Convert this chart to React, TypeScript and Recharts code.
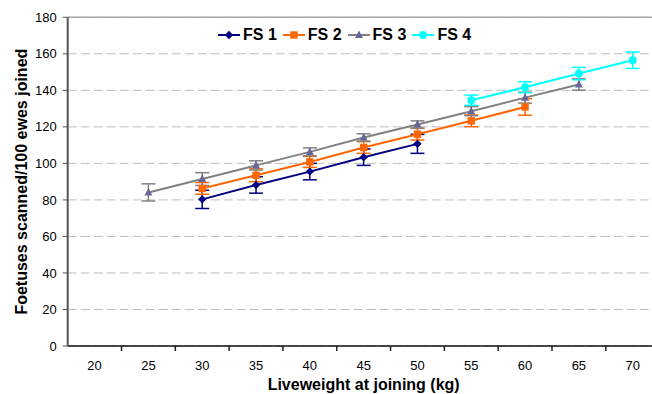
import React from 'react';
import { LineChart, Line, XAxis, YAxis, CartesianGrid, ErrorBar, ReferenceLine, Legend, Label } from 'recharts';

const xCategories = [20, 25, 30, 35, 40, 45, 50, 55, 60, 65, 70];
const yTicks = [0, 20, 40, 60, 80, 100, 120, 140, 160, 180];

const seriesNames = ['FS 1', 'FS 2', 'FS 3', 'FS 4'];

const fs1Weights = [30, 35, 40, 45, 50];
const fs1Values = [80.3, 88.2, 95.5, 103.4, 110.7];
const fs1Errors = [5, 4.5, 4.5, 4.5, 5.2];

const fs2Weights = [30, 35, 40, 45, 50, 55, 60];
const fs2Values = [86.3, 93.5, 100.8, 108.7, 116.0, 123.3, 130.9];
const fs2Errors = [3.2, 3.5, 3, 3.2, 3.2, 3.2, 4.5];

const fs3Weights = [25, 30, 35, 40, 45, 50, 55, 60, 65];
const fs3Values = [84.1, 91.4, 98.9, 106.3, 114.2, 121.3, 128.6, 136.0, 143.2];
const fs3Errors = [4.7, 3.5, 2.5, 2.2, 2, 2, 2.5, 3, 3.1];

const fs4Weights = [55, 60, 65, 70];
const fs4Values = [134.6, 141.7, 149.2, 156.5];
const fs4Errors = [2.8, 3, 3.4, 4.5];

const FONT = '"Liberation Sans", Arial, Helvetica, sans-serif';

const build = (xs: number[], ys: number[], es: number[]) =>
  xs.map((x, i) => ({ x, y: ys[i], err: es[i] }));

const fs1Data = build(fs1Weights, fs1Values, fs1Errors);
const fs2Data = build(fs2Weights, fs2Values, fs2Errors);
const fs3Data = build(fs3Weights, fs3Values, fs3Errors);
const fs4Data = build(fs4Weights, fs4Values, fs4Errors);

type Kind = 'diamond' | 'square' | 'triangle' | 'circle';

const seriesStyles: { kind: Kind; line: string; marker: string }[] = [
  { kind: 'diamond', line: '#000080', marker: '#000080' },
  { kind: 'square', line: '#FF6600', marker: '#FF6600' },
  { kind: 'triangle', line: '#808080', marker: '#666699' },
  { kind: 'circle', line: '#00FFFF', marker: '#00FFFF' },
];

// category boundaries (Excel-style tick marks between categories)
const boundaryTicks = xCategories.slice(1).map((c) => c - 2.5).concat(xCategories[xCategories.length - 1] + 2.5);

function Marker({ kind, cx, cy, color }: { kind: Kind; cx: number; cy: number; color: string }) {
  if (cx == null || cy == null) return null;
  if (kind === 'diamond') {
    return <polygon points={`${cx},${cy - 4.2} ${cx + 4.2},${cy} ${cx},${cy + 4.2} ${cx - 4.2},${cy}`} fill={color} />;
  }
  if (kind === 'square') {
    return <rect x={cx - 3.7} y={cy - 3.7} width={7.4} height={7.4} fill={color} />;
  }
  if (kind === 'triangle') {
    return <polygon points={`${cx},${cy - 4.5} ${cx + 4},${cy + 3} ${cx - 4},${cy + 3}`} fill={color} />;
  }
  return <circle cx={cx} cy={cy} r={4} fill={color} />;
}

const makeDot = (i: number) => (p: any) => (
  <Marker key={`d-${i}-${p.index}`} kind={seriesStyles[i].kind} cx={p.cx} cy={p.cy} color={seriesStyles[i].marker} />
);

const TickMarkShape = (p: any) => {
  const x = p.x1 ?? p.x2;
  const yb = Math.max(p.y1 ?? 0, p.y2 ?? 0);
  if (x == null || !isFinite(yb)) return null;
  return <line x1={x} x2={x} y1={yb} y2={yb + 5} stroke="#222" strokeWidth={1.5} />;
};

const renderLegend = () => (
  <div style={{ display: 'flex', alignItems: 'center', fontFamily: FONT, fontWeight: 'bold', fontSize: 16, lineHeight: '16px', whiteSpace: 'nowrap' }}>
    {seriesNames.map((name, i) => (
      <div key={name} style={{ display: 'flex', alignItems: 'center', marginRight: 6 }}>
        <svg width={22} height={12} style={{ marginRight: 3 }}>
          <line x1={0} y1={6} x2={22} y2={6} stroke={seriesStyles[i].line} strokeWidth={2} />
          <Marker kind={seriesStyles[i].kind} cx={11} cy={6} color={seriesStyles[i].marker} />
        </svg>
        <span style={{ color: '#000' }}>{name}</span>
      </div>
    ))}
  </div>
);

const seriesData = [fs1Data, fs2Data, fs3Data, fs4Data];

export default function App() {
  return (
    <div style={{ position: 'absolute', left: 0, top: 0, width: 652, height: 394, overflow: 'hidden', background: '#fff' }}>
      <LineChart width={680} height={410} margin={{ top: 17.3, right: 20.4, left: 7.7, bottom: 24 }}>
        <CartesianGrid horizontal vertical={false} stroke="#bdbdbd" strokeDasharray="9 4" />
        <XAxis
          xAxisId="main"
          type="number"
          dataKey="x"
          domain={[17.5, 72.5]}
          ticks={xCategories}
          interval={0}
          height={40}
          axisLine={{ stroke: '#111', strokeWidth: 1.5 }}
          tickLine={false}
          tickSize={0}
          tickMargin={15}
          tick={{ fill: '#000', fontSize: 13, fontFamily: FONT }}
          allowDataOverflow
        >
          <Label
            content={({ viewBox }: any) => (
              <text
                x={viewBox.x + viewBox.width / 2}
                y={viewBox.y + 44}
                textAnchor="middle"
                fontFamily={FONT}
                fontWeight="bold"
                fontSize={16}
                fill="#000"
              >
                Liveweight at joining (kg)
              </text>
            )}
          />
        </XAxis>
        <YAxis
          type="number"
          domain={[0, 180]}
          ticks={yTicks}
          interval={0}
          width={60}
          axisLine={{ stroke: '#555', strokeWidth: 2 }}
          tickLine={{ stroke: '#555', strokeWidth: 1 }}
          tickSize={5}
          tickMargin={6}
          tick={{ fill: '#000', fontSize: 13, fontFamily: FONT }}
        >
          <Label
            content={({ viewBox }: any) => {
              const cx = viewBox.x + 13.5;
              const cy = viewBox.y + viewBox.height / 2;
              return (
                <text
                  x={cx}
                  y={cy}
                  transform={`rotate(-90 ${cx} ${cy})`}
                  textAnchor="middle"
                  dominantBaseline="central"
                  fontFamily={FONT}
                  fontWeight="bold"
                  fontSize={16}
                  fill="#000"
                >
                  Foetuses scanned/100 ewes joined
                </text>
              );
            }}
          />
        </YAxis>
        <ReferenceLine xAxisId="main" y={180} stroke="#a8a8a8" strokeWidth={1.5} />
        {boundaryTicks.map((b) => (
          <ReferenceLine key={`tm-${b}`} xAxisId="main" x={b} ifOverflow="visible" shape={TickMarkShape} />
        ))}
        <Legend
          verticalAlign="middle"
          content={renderLegend}
          wrapperStyle={{ position: 'absolute', top: 27, left: 218, width: 300, height: 16 }}
        />
        {seriesData.map((data, i) => (
          <Line
            key={seriesNames[i]}
            xAxisId="main"
            data={data}
            dataKey="y"
            name={seriesNames[i]}
            stroke={seriesStyles[i].line}
            strokeWidth={2}
            dot={makeDot(i)}
            activeDot={false}
            isAnimationActive={false}
          >
            <ErrorBar dataKey="err" direction="y" width={7} stroke={seriesStyles[i].line} strokeWidth={1.5} />
          </Line>
        ))}
      </LineChart>
    </div>
  );
}
